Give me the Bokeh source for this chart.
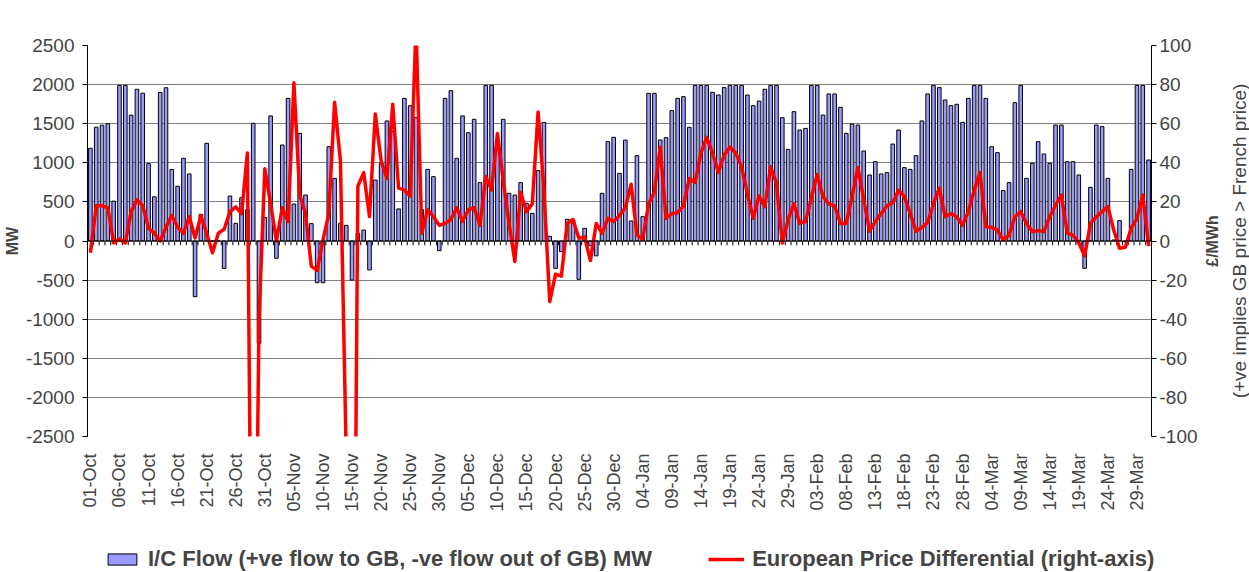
import math
from bokeh.plotting import figure
from bokeh.layouts import row, column
from bokeh.models import (Range1d, LinearAxis, FixedTicker, Span, Legend,
                          LegendItem, ColumnDataSource)
from bokeh.embed import file_html
from bokeh.resources import INLINE

# Daily interconnector flow (MW), 01-Oct .. 31-Mar
flow_mw = [
    1185, 1455, 1480, 1500, 510, 1990, 1990, 1610, 1940, 1890,
    990, 565, 1900, 1960, 915, 700, 1057, 857, -712, 340,
    1249, 0, 0, -350, 575, 226, 554, 400, 1505, -1310,
    300,
    1600, -220, 1228, 1824, 473, 1377, 588, 222, -533, -533,
    1206, 801, 226, 200, -500, 100, 140, -370, 780, 993,
    1535, 1400, 410, 1824, 1730, 1577, 400, 916, 823, -124,
    1824, 1922, 1057, 1600, 1385, 1556, 746, 1990, 1990, 1300,
    1556, 610, 588, 746, 482, 354, 900, 1517, 60, -350,
    -136, 277, 270, -490, 162, -60, -190, 610, 1270, 1326,
    865,
    1290, 256, 1091, 311, 1888, 1888, 1292, 1321, 1667, 1824,
    1846, 1454, 1990, 1990, 1990, 1901, 1867, 1961, 1990, 1990,
    1990, 1867, 1731, 1790, 1940, 1990, 1990, 1577, 1172, 1654,
    1419,
    1440, 1990, 1990, 1611, 1880, 1880, 1709, 1377, 1496, 1483,
    1151, 844, 1014, 857, 874, 1240, 1419, 938, 916, 1091,
    1535, 1880, 1990, 1961, 1803, 1731, 1748, 1517, 1824,
    1990, 1990, 1824, 1206, 1130, 644, 746, 1769, 1990, 801,
    993, 1270, 1113, 993, 1483, 1483, 1014, 1014, 844, -350,
    686, 1483, 1462, 801, 13, 260, -10, 916, 1990, 1990,
    1036,
]

# European price differential (GBP/MWh), right axis
price_diff = [
    -6, 18, 18, 17, -1, 1, -1, 15, 21, 18,
    6.5, 4, 0, 7, 13, 7, 4, 12.5, 1.5, 13,
    4, -6, 4, 6, 15, 17.5, 14, 45, -300, -40,
    37,
    19, 0, 17, 10, 81, 23.5, 14, -13, -15, 0.5,
    14, 71, 41, -110, -350, 28, 35, 12.5, 65, 41,
    32, 70, 27, 26, 23, 110, 4, 16, 12.5, 8,
    9, 11, 17, 10, 16, 17, 8, 33, 26, 55,
    31, 9, -10.5, 25, 15, 19, 66, 26, -31, -17,
    -18, 9, 11, 1.4, 2, -10, 9, 4, 11.6, 10,
    13,
    17, 29, 3, 1, 19, 25, 48, 11.6, 14, 14.5,
    18, 32, 30, 45, 53, 45, 35, 44, 48, 45,
    38, 24, 11.6, 23, 17.5, 38, 29.5, -1, 11, 19,
    9,
    10, 22, 34, 22.7, 19, 18, 9, 9, 22.7, 37.5,
    21.5, 5, 10, 14, 18, 19.6, 26, 22.7, 14, 5,
    7, 9.4, 19, 27, 12.4, 14, 12.4, 8, 15,
    26, 35, 7.3, 7, 5.6, 0.5, 3, 12.4, 15, 9,
    4.8, 5.3, 4.8, 12.4, 18.4, 23.5, 4, 3, -1, -7.7,
    9, 12.4, 15, 17.6, 5.6, -3.7, -3.2, 6.5, 11.6, 23.5,
    -2.6,
]

tick_labels = [
    "01-Oct", "06-Oct", "11-Oct", "16-Oct", "21-Oct", "26-Oct", "31-Oct",
    "05-Nov", "10-Nov", "15-Nov", "20-Nov", "25-Nov", "30-Nov",
    "05-Dec", "10-Dec", "15-Dec", "20-Dec", "25-Dec", "30-Dec",
    "04-Jan", "09-Jan", "14-Jan", "19-Jan", "24-Jan", "29-Jan",
    "03-Feb", "08-Feb", "13-Feb", "18-Feb", "23-Feb", "28-Feb",
    "04-Mar", "09-Mar", "14-Mar", "19-Mar", "24-Mar", "29-Mar",
]
mw_ticks = [-2500, -2000, -1500, -1000, -500, 0, 500, 1000, 1500, 2000, 2500]
price_ticks = [-100, -80, -60, -40, -20, 0, 20, 40, 60, 80, 100]

FONT = "Liberation Sans"
BAR_STYLE = dict(fill_color="#9999FF", line_color="black", line_width=1)
LINE_STYLE = dict(line_color="#FF0000", line_width=3.5, line_join="round")

n = len(flow_mw)
day = list(range(n))
src = ColumnDataSource(dict(day=day, flow=flow_mw, price=price_diff))

# ---------------- main chart ----------------
p = figure(width=1200, height=520, output_backend="svg", toolbar_location=None,
           x_range=Range1d(-0.5, n - 0.5), y_range=Range1d(-2500, 2500),
           min_border_left=85, min_border_right=47, min_border_top=45,
           min_border_bottom=84)
p.extra_y_ranges = {"price": Range1d(-100, 100)}
p.outline_line_color = None
p.background_fill_color = "white"
p.border_fill_color = "white"

p.xgrid.visible = False
p.ygrid.ticker = FixedTicker(ticks=[t for t in mw_ticks if t != 0])
p.ygrid.grid_line_color = "#808080"
p.ygrid.grid_line_width = 1

bars = p.vbar(x="day", top="flow", bottom=0, width=0.62, source=src, **BAR_STYLE)

zero = Span(location=0, dimension="width", line_color="black", line_width=1)
p.add_layout(zero)
bounds = [d - 0.5 for d in day] + [n - 0.5]
p.segment(x0=bounds, y0=[0] * len(bounds), x1=bounds, y1=[-55] * len(bounds),
          line_color="black", line_width=1)

line = p.line(x="day", y="price", source=src, y_range_name="price", **LINE_STYLE)

ya = p.yaxis[0]
ya.ticker = FixedTicker(ticks=mw_ticks)
ya.major_label_overrides = {t: str(t) for t in mw_ticks}
ya.axis_label = "MW"
ya.axis_label_text_font = FONT
ya.axis_label_text_font_style = "bold"
ya.axis_label_text_font_size = "16px"
ya.axis_label_standoff = 2
ya.major_label_text_font = FONT
ya.major_label_text_font_size = "19px"
ya.major_label_standoff = 8
ya.major_tick_out = 5
ya.major_tick_in = 0
ya.minor_tick_line_color = None
ya.axis_line_color = "black"

xa = p.xaxis[0]
tick_pos = day[::5]
xa.ticker = FixedTicker(ticks=tick_pos)
xa.major_label_overrides = dict(zip(tick_pos, tick_labels))
xa.major_label_orientation = math.pi / 2
xa.major_label_text_font = FONT
xa.major_label_text_font_size = "18px"
xa.major_label_standoff = 11
xa.major_tick_line_color = None
xa.minor_tick_line_color = None
xa.axis_line_color = None

ra = LinearAxis(y_range_name="price", ticker=FixedTicker(ticks=price_ticks))
ra.major_label_overrides = {t: str(t) for t in price_ticks}
ra.major_label_text_font = FONT
ra.major_label_text_font_size = "19px"
ra.major_label_standoff = 3
ra.major_tick_out = 5
ra.major_tick_in = 0
ra.minor_tick_line_color = None
ra.axis_line_color = "black"
p.add_layout(ra, "right")

# ---------------- strip with right-hand axis titles ----------------
t = figure(width=49, height=520, output_backend="svg", toolbar_location=None,
           x_range=Range1d(0, 1), y_range=Range1d(-100, 100),
           x_axis_location=None, y_axis_location=None,
           min_border_left=48, min_border_right=0, min_border_top=45,
           min_border_bottom=84)
t.outline_line_color = None
t.xgrid.visible = False
t.ygrid.visible = False
t.background_fill_color = "white"
t.border_fill_color = "white"


def title_axis(text, size, style, standoff):
    ax = LinearAxis(ticker=FixedTicker(ticks=[]), axis_label=text)
    ax.axis_label_text_font = FONT
    ax.axis_label_text_font_size = size
    ax.axis_label_text_font_style = style
    ax.axis_label_standoff = standoff
    ax.major_label_text_font_size = "0px"
    ax.major_label_standoff = 0
    ax.major_tick_out = 0
    ax.major_tick_in = 0
    ax.major_tick_line_color = None
    ax.minor_tick_line_color = None
    ax.axis_line_color = None
    return ax


t.add_layout(title_axis("(+ve implies GB price > French price)", "19px", "normal", 0), "left")
t.add_layout(title_axis("£/MWh", "16px", "bold", 5), "left")

# ---------------- legend strip ----------------
# key glyphs use the same data, but the strip's ranges keep them out of view
lf = figure(width=1249, height=52, output_backend="svg", toolbar_location=None,
            x_range=Range1d(-3, -2), y_range=Range1d(5000, 6000),
            x_axis_location=None, y_axis_location=None,
            min_border_left=85, min_border_right=0, min_border_top=0,
            min_border_bottom=0)
lf.outline_line_color = None
lf.xgrid.visible = False
lf.ygrid.visible = False
lf.background_fill_color = "white"
lf.border_fill_color = "white"
bars_key = lf.vbar(x="day", top="flow", bottom=0, width=0.62, source=src, **BAR_STYLE)
line_key = lf.line(x="day", y="price", source=src, **LINE_STYLE)

legend = Legend(items=[
    LegendItem(label="I/C Flow (+ve flow to GB, -ve flow out of GB) MW", renderers=[bars_key]),
    LegendItem(label="European Price Differential (right-axis)", renderers=[line_key]),
], orientation="horizontal", location=(19, 0))
legend.label_text_font = FONT
legend.label_text_font_size = "22px"
legend.label_text_font_style = "bold"
legend.glyph_width = 36
legend.glyph_height = 14
legend.label_standoff = 8
legend.spacing = 56
legend.padding = 0
legend.margin = 0
legend.border_line_color = None
legend.background_fill_alpha = 0
lf.add_layout(legend)

layout = column(row(p, t), lf)
open("out.html", "w", encoding="utf-8").write(file_html(layout, INLINE))
